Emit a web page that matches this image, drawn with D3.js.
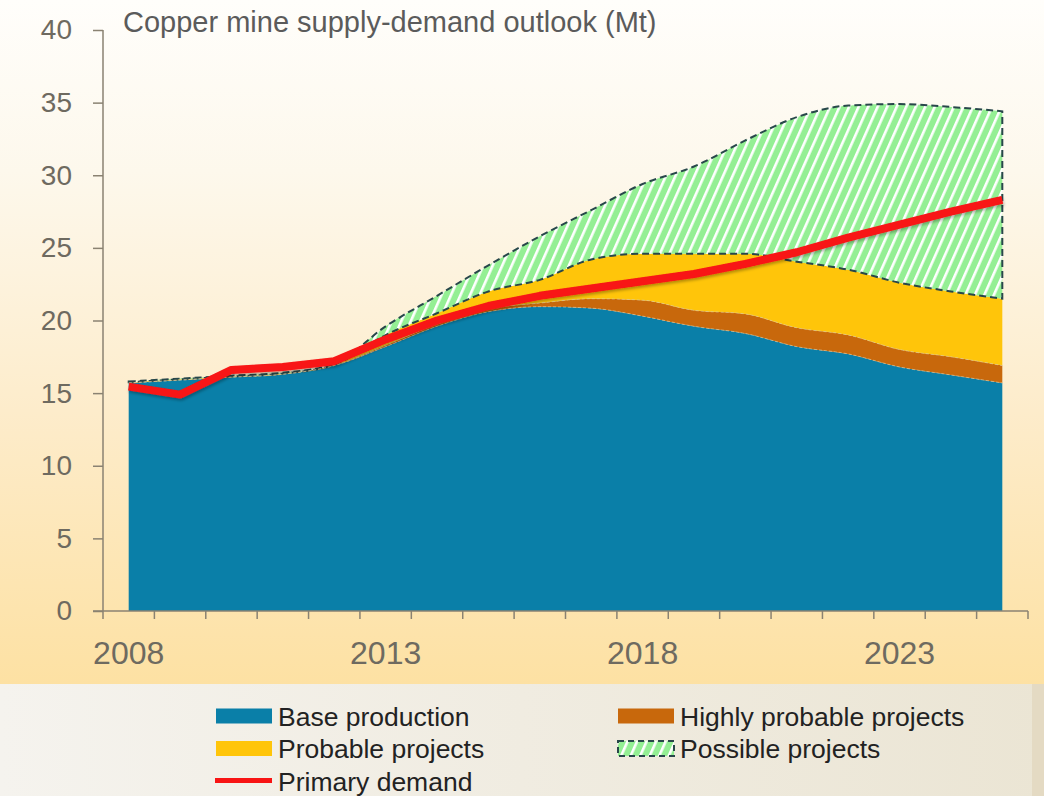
<!DOCTYPE html>
<html>
<head>
<meta charset="utf-8">
<script src="https://cdn.jsdelivr.net/npm/d3@7"></script>
<style>
    body { margin: 0; background: #fff; }
    svg { display: block; font-family: "Liberation Sans", Arial, sans-serif; }
</style>
</head>
<body>
<div class="drawingArea"></div>
<script>
//Data (Mt), each layer is the increment on top of the previous one
var years = [2008, 2009, 2010, 2011, 2012, 2013, 2014, 2015, 2016, 2017, 2018, 2019, 2020, 2021, 2022, 2023, 2024, 2025];
var baseProduction   = [15.7, 15.9, 16.1, 16.3, 16.9, 18.2, 19.6, 20.6, 20.95, 20.85, 20.3, 19.6, 19.1, 18.2, 17.7, 16.8, 16.25, 15.7];
var highlyProbable   = [0, 0, 0, 0, 0, 0.1, 0.15, 0.2, 0.25, 0.65, 1.1, 1.1, 1.35, 1.3, 1.3, 1.2, 1.25, 1.2];
var probableProjects = [0.05, 0.05, 0.05, 0.05, 0.05, 0.7, 0.75, 1.2, 1.6, 2.7, 3.2, 3.9, 4.15, 4.55, 4.5, 4.6, 4.5, 4.6];
var possibleProjects = [0.05, 0.05, 0.05, 0.05, 0.05, 0.6, 1.2, 1.8, 3.0, 3.4, 4.8, 6.0, 7.8, 9.95, 11.3, 12.3, 12.7, 12.9];
var primaryDemand    = [15.45, 14.9, 16.6, 16.8, 17.2, 18.7, 20.0, 21.0, 21.7, 22.2, 22.7, 23.2, 23.9, 24.7, 25.7, 26.6, 27.5, 28.3];

var yTicks = [0, 5, 10, 15, 20, 25, 30, 35, 40];
var xTickLabels = [2008, 2013, 2018, 2023];
var title = "Copper mine supply-demand outlook (Mt)";
var legendLabels = ["Base production", "Highly probable projects", "Probable projects", "Possible projects", "Primary demand"];
var layerKeys = ["base", "high", "prob", "poss"];

//Size
var width = 1044;
var height = 796;
var plotLeft = 103, plotRight = 1028, plotTop = 30, plotBottom = 611;
var legendTop = 684;

//Colors
var colors = { base: "#0a7fa8", high: "#c8680c", prob: "#ffc50a", poss: "url(#hatch)" };
var demandColor = "#f81414";

var svg = d3.select(".drawingArea").append("svg:svg")
    .attr("width", width)
    .attr("height", height);

var defs = svg.append("defs");

//Background gradients
var bgGrad = defs.append("linearGradient").attr("id", "bgGrad")
    .attr("x1", 0).attr("y1", 0).attr("x2", 0).attr("y2", 1);
bgGrad.append("stop").attr("offset", "0%").attr("stop-color", "#fffefb");
bgGrad.append("stop").attr("offset", "25%").attr("stop-color", "#fdf8ec");
bgGrad.append("stop").attr("offset", "60%").attr("stop-color", "#fdeccb");
bgGrad.append("stop").attr("offset", "100%").attr("stop-color", "#fde1a3");

var legGrad = defs.append("linearGradient").attr("id", "legGrad")
    .attr("x1", 0).attr("y1", 0).attr("x2", 1).attr("y2", 0);
legGrad.append("stop").attr("offset", "0%").attr("stop-color", "#f5f3ee");
legGrad.append("stop").attr("offset", "100%").attr("stop-color", "#ebe5d4");

//Hatch for possible projects
var hatch = defs.append("pattern").attr("id", "hatch")
    .attr("patternUnits", "userSpaceOnUse")
    .attr("width", 8.7).attr("height", 8.7)
    .attr("patternTransform", "rotate(24)");
hatch.append("rect").attr("width", 8.7).attr("height", 8.7).attr("fill", "#94ef94");
hatch.append("rect").attr("x", 0).attr("width", 2.6).attr("height", 8.7).attr("fill", "#ffffff");

//Shadow under the demand line
var shadow = defs.append("filter").attr("id", "shadow")
    .attr("x", "-5%").attr("y", "-20%").attr("width", "110%").attr("height", "140%");
shadow.append("feDropShadow").attr("dx", 1).attr("dy", 2).attr("stdDeviation", 1.5)
    .attr("flood-color", "#000").attr("flood-opacity", 0.3);

svg.append("rect").attr("width", width).attr("height", legendTop).attr("fill", "url(#bgGrad)");
svg.append("rect").attr("y", legendTop).attr("width", width).attr("height", height - legendTop).attr("fill", "url(#legGrad)");
svg.append("rect").attr("x", 1032).attr("y", legendTop).attr("width", width - 1032).attr("height", height - legendTop).attr("fill", "#e4dac3");

//Scales
var xBand = d3.scaleBand().domain(years).range([plotLeft, plotRight]);
var xPos = function (yr) { return xBand(yr) + xBand.bandwidth() / 2; };
var y = d3.scaleLinear().domain([0, 40]).range([plotBottom, plotTop]);

//Stack
var rows = years.map(function (yr, i) {
    return { year: yr, base: baseProduction[i], high: highlyProbable[i], prob: probableProjects[i], poss: possibleProjects[i] };
});
var series = d3.stack().keys(layerKeys)(rows);

var area = d3.area()
    .x(function (d) { return xPos(d.data.year); })
    .y0(function (d) { return y(d[0]); })
    .y1(function (d) { return y(d[1]); })
    .curve(d3.curveMonotoneX);

var topLine = d3.line()
    .x(function (d) { return xPos(d.data.year); })
    .y(function (d) { return y(d[1]); })
    .curve(d3.curveMonotoneX);

var chart = svg.append("g");

chart.selectAll("path.layer")
    .data(series)
    .enter()
    .append("path")
    .attr("class", "layer")
    .attr("d", area)
    .attr("fill", function (d) { return colors[d.key]; })
    .attr("stroke", function (d) { return d.key === "poss" ? "#28474a" : "none"; })
    .attr("stroke-width", 2)
    .attr("stroke-dasharray", "7,4");

//thin light edges on base / highly probable
chart.selectAll("path.edge")
    .data(series.filter(function (s) { return s.key === "base" || s.key === "high"; }))
    .enter()
    .append("path")
    .attr("class", "edge")
    .attr("d", topLine)
    .attr("fill", "none")
    .attr("stroke", "#d9c9a2")
    .attr("stroke-opacity", 0.6)
    .attr("stroke-width", 1)
    .attr("stroke-dasharray", "3,2");

//Axes
var axisColor = "#8a8272";
var labelColor = "#6e6a60";

var yAxis = svg.append("g")
    .attr("transform", "translate(" + plotLeft + ",0)")
    .call(d3.axisLeft(y).tickValues(yTicks).tickSize(10).tickPadding(21).tickSizeOuter(0));
yAxis.select(".domain").remove();
yAxis.append("line").attr("y1", plotTop).attr("y2", plotBottom).attr("stroke", axisColor).attr("stroke-width", 1.5);
yAxis.selectAll(".tick line").attr("stroke", axisColor).attr("stroke-width", 1.5);
yAxis.selectAll(".tick text").attr("fill", labelColor).attr("font-size", 28).attr("font-family", null);

var xAxis = svg.append("g")
    .attr("transform", "translate(0," + plotBottom + ")")
    .call(d3.axisBottom(xBand).tickSize(8).tickPadding(22).tickSizeOuter(0)
        .tickFormat(function (d) { return xTickLabels.indexOf(d) >= 0 ? String(d) : ""; }));
xAxis.select(".domain").remove();
xAxis.append("line").attr("x1", plotLeft - 10).attr("x2", plotRight).attr("stroke", axisColor).attr("stroke-width", 1.5);
xAxis.selectAll(".tick line")
    .attr("x1", -xBand.bandwidth() / 2).attr("x2", -xBand.bandwidth() / 2)
    .attr("stroke", axisColor).attr("stroke-width", 1.5);
xAxis.append("line").attr("x1", plotRight).attr("x2", plotRight).attr("y2", 8).attr("stroke", axisColor).attr("stroke-width", 1.5);
xAxis.selectAll(".tick text").attr("fill", labelColor).attr("font-size", 32).attr("font-family", null);

//Demand line
svg.append("path")
    .datum(primaryDemand)
    .attr("d", d3.line()
        .x(function (d, i) { return xPos(years[i]); })
        .y(function (d) { return y(d); }))
    .attr("fill", "none")
    .attr("stroke", demandColor)
    .attr("stroke-width", 8)
    .attr("stroke-linejoin", "round")
    .attr("filter", "url(#shadow)");

//Title
svg.append("text")
    .attr("x", 123).attr("y", 32)
    .attr("font-size", 29)
    .attr("fill", "#5b5b5b")
    .text(title);

//Legend
var legendItems = [
    { label: legendLabels[0], type: "base", col: 0, row: 0 },
    { label: legendLabels[1], type: "high", col: 1, row: 0 },
    { label: legendLabels[2], type: "prob", col: 0, row: 1 },
    { label: legendLabels[3], type: "poss", col: 1, row: 1 },
    { label: legendLabels[4], type: "line", col: 0, row: 2 }
];

var legend = svg.append("g").attr("transform", "translate(215,708)");
var item = legend.selectAll("g")
    .data(legendItems)
    .enter()
    .append("g")
    .attr("transform", function (d) { return "translate(" + (d.col * 402) + "," + (d.row * 32.5) + ")"; });

item.filter(function (d) { return d.type !== "line"; })
    .append("rect")
    .attr("x", 1).attr("y", 0.5)
    .attr("width", 56).attr("height", 15)
    .attr("fill", function (d) { return colors[d.type]; })
    .attr("stroke", function (d) { return d.type === "poss" ? "#28474a" : "none"; })
    .attr("stroke-width", 2)
    .attr("stroke-dasharray", "6,4");

item.filter(function (d) { return d.type === "line"; })
    .append("line")
    .attr("x1", 0).attr("x2", 57)
    .attr("y1", 7.5).attr("y2", 7.5)
    .attr("stroke", demandColor)
    .attr("stroke-width", 5);

item.append("text")
    .attr("x", 63).attr("y", 17.5)
    .attr("font-size", 26.5)
    .attr("fill", "#222")
    .text(function (d) { return d.label; });
</script>
</body>
</html>
